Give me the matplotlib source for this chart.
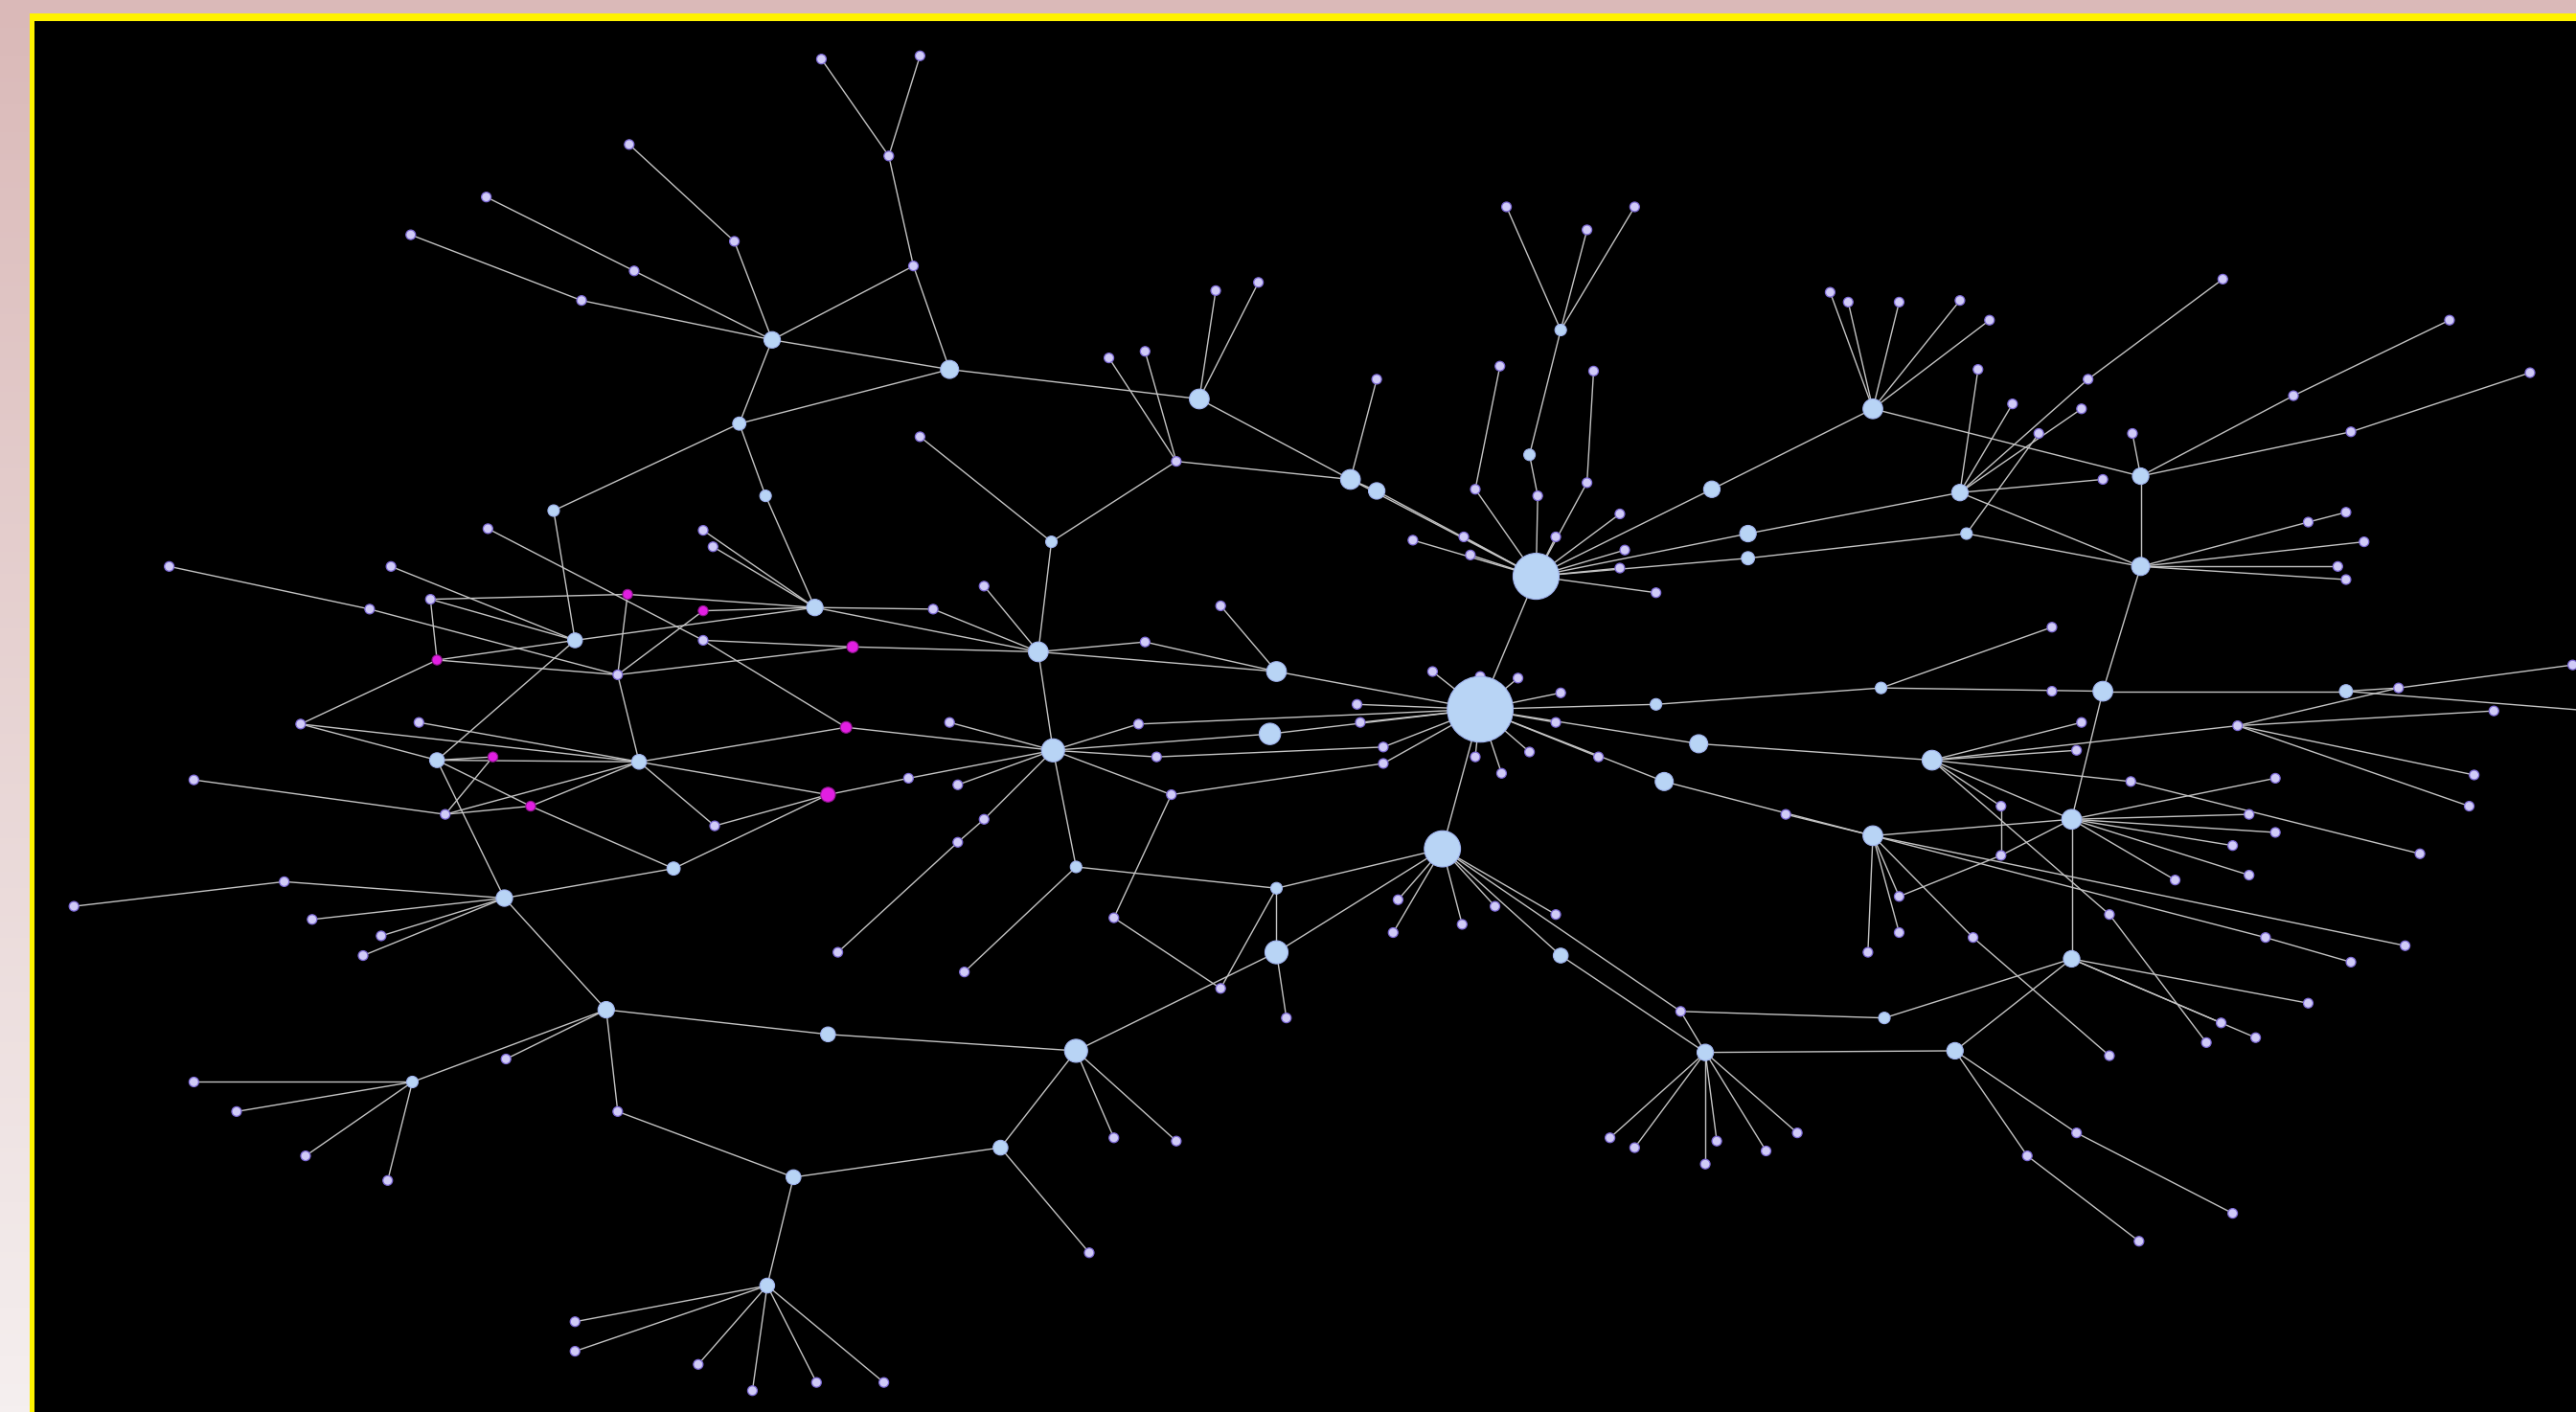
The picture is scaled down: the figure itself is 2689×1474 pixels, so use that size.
import numpy as np
import matplotlib
matplotlib.use("Agg")
import matplotlib.pyplot as plt
from matplotlib.collections import LineCollection
from matplotlib.patches import Rectangle

# ------------------------------------------------------------------
# Graph data: node name, layout x, layout y, node weight (0 = leaf)
# layout is in a 1568 x 860 screen frame
# ------------------------------------------------------------------
top_left = [
    ("n1", 500, 36, 0), ("n2", 560, 34, 0), ("n3", 541, 95, 0), ("n4", 556, 162, 0),
    ("n5", 578, 225, 5.5), ("n6", 383, 88, 0), ("n7", 447, 147, 0), ("n8", 470, 207, 5),
    ("n9", 296, 120, 0), ("n10", 250, 143, 0), ("n11", 386, 165, 0), ("n12", 354, 183, 0),
    ("n13", 450, 258, 4), ("n14", 466, 302, 3.5), ("n15", 337, 311, 3.5), ("n16", 297, 322, 0),
    ("n17", 428, 323, 0), ("n18", 434, 333, 0), ("n19", 496, 370, 5),
]
left_mid = [
    ("n20", 103, 345, 0), ("n21", 238, 345, 0), ("n22", 262, 365, 0), ("n23", 225, 371, 0),
    ("m1", 382, 362, 3), ("m2", 428, 372, 3), ("n24", 350, 390, 4.5), ("n25", 428, 390, 0),
    ("m3", 519, 394, 3.5), ("m4", 266, 402, 3), ("n26", 376, 411, 0), ("n27", 183, 441, 0),
    ("n28", 255, 440, 0), ("m5", 515, 443, 3.5), ("n29", 266, 463, 4.5), ("m6", 300, 461, 3),
    ("n30", 389, 464, 4.5), ("n35", 118, 475, 0), ("n31", 271, 496, 0), ("m7", 323, 491, 3),
    ("n32", 435, 503, 0), ("m8", 504, 484, 4.5), ("n33", 553, 474, 0), ("n36", 410, 529, 4),
]
bottom_left = [
    ("n37", 173, 537, 0), ("n38", 45, 552, 0), ("n39", 307, 547, 5), ("n40", 190, 560, 0),
    ("n41", 232, 570, 0), ("n42", 221, 582, 0), ("n43", 510, 580, 0), ("n44", 369, 615, 5),
    ("n45", 504, 630, 4.5), ("n46", 308, 645, 0), ("n47", 251, 659, 3.5), ("n48", 118, 659, 0),
    ("n49", 144, 677, 0), ("n50", 376, 677, 0), ("n51", 186, 704, 0), ("n52", 236, 719, 0),
    ("n53", 483, 717, 4.5), ("n54", 467, 783, 4.5), ("n55", 350, 805, 0), ("n56", 350, 823, 0),
    ("n57", 425, 831, 0), ("n58", 458, 847, 0), ("n59", 497, 842, 0), ("n60", 538, 842, 0),
]
top_mid = [
    ("n61", 730, 243, 6), ("n62", 740, 177, 0), ("n63", 766, 172, 0), ("n64", 675, 218, 0),
    ("n65", 697, 214, 0), ("n66", 716, 281, 0), ("n67", 560, 266, 0), ("n68", 640, 330, 3.5),
    ("n69", 838, 231, 0), ("n70", 822, 292, 6), ("n71", 838, 299, 5), ("n72", 917, 126, 0),
    ("n73", 966, 140, 0), ("n74", 995, 126, 0), ("n75", 950, 201, 3.5), ("n76", 913, 223, 0),
    ("n77", 970, 226, 0), ("n78", 931, 277, 3.5), ("n79", 898, 298, 0), ("n80", 936, 302, 0),
    ("n81", 966, 294, 0), ("n82", 860, 329, 0), ("n83", 891, 327, 0), ("n84", 895, 338, 0),
    ("n85", 947, 327, 0), ("n86", 986, 313, 0), ("n87", 989, 335, 0), ("n88", 986, 346, 0),
    ("n89", 1008, 361, 0), ("B", 935, 351, 14), ("n90", 1042, 298, 5), ("n91", 1064, 325, 5),
    ("n92", 1064, 340, 4),
]
center = [
    ("n93", 599, 357, 0), ("n94", 568, 371, 0), ("n95", 632, 397, 6), ("n96", 697, 391, 0),
    ("n97", 743, 369, 0), ("n98", 777, 409, 6), ("n99", 872, 409, 0), ("n100", 901, 412, 0),
    ("n101", 924, 413, 0), ("n102", 950, 422, 0), ("n103", 1008, 429, 3.5), ("n104", 826, 429, 0),
    ("n105", 578, 440, 0), ("n106", 693, 441, 0), ("n107", 828, 440, 0), ("A", 901, 432, 20),
    ("n109", 641, 457, 7), ("n110", 773, 447, 6.5), ("n111", 704, 461, 0), ("n112", 842, 455, 0),
    ("n113", 842, 465, 0), ("n114", 583, 478, 0), ("n115", 713, 484, 0), ("n116", 599, 499, 0),
    ("n117", 583, 513, 0), ("n118", 898, 461, 0), ("n119", 914, 471, 0), ("n120", 931, 458, 0),
    ("n121", 947, 440, 0), ("n122", 973, 461, 0), ("n123", 1013, 476, 5.5), ("n124", 1034, 453, 5.5),
]
bottom_mid = [
    ("C", 878, 517, 11), ("n125", 655, 528, 3.5), ("n126", 777, 541, 3.5), ("n127", 678, 559, 0),
    ("n128", 777, 580, 7), ("n129", 743, 602, 0), ("n130", 783, 620, 0), ("n131", 587, 592, 0),
    ("n132", 851, 548, 0), ("n133", 848, 568, 0), ("n134", 890, 563, 0), ("n135", 910, 552, 0),
    ("n136", 947, 557, 0), ("n137", 950, 582, 4.5), ("n138", 1023, 616, 0), ("n139", 1038, 641, 5),
    ("n140", 655, 640, 7), ("n141", 609, 699, 4.5), ("n142", 678, 693, 0), ("n143", 716, 695, 0),
    ("n144", 663, 763, 0), ("n145", 980, 693, 0), ("n146", 995, 699, 0), ("n147", 1038, 709, 0),
    ("n148", 1045, 695, 0),
]
top_right = [
    ("n150", 1114, 178, 0), ("n151", 1125, 184, 0), ("n152", 1156, 184, 0), ("n153", 1193, 183, 0),
    ("n154", 1211, 195, 0), ("n155", 1353, 170, 0), ("n156", 1140, 249, 6), ("n157", 1204, 225, 0),
    ("n158", 1225, 246, 0), ("n159", 1271, 231, 0), ("n160", 1267, 249, 0), ("n161", 1241, 264, 0),
    ("n162", 1298, 264, 0), ("n163", 1491, 195, 0), ("n164", 1540, 227, 0), ("n165", 1396, 241, 0),
    ("n166", 1431, 263, 0), ("n167", 1193, 300, 5), ("n168", 1280, 292, 0), ("n169", 1303, 290, 5),
    ("n170", 1197, 325, 3.5), ("n171", 1405, 318, 0), ("n172", 1428, 312, 0), ("n173", 1439, 330, 0),
    ("n174", 1423, 345, 0), ("n175", 1428, 353, 0), ("n176", 1303, 345, 5.5), ("n177", 1249, 382, 0),
    ("n178", 1145, 419, 3.5), ("n179", 1249, 421, 0), ("n180", 1280, 421, 6), ("n181", 1428, 421, 4),
    ("n182", 1460, 419, 0), ("n183", 1566, 405, 0), ("n184", 1518, 433, 0), ("n185", 1267, 440, 0),
    ("n186", 1362, 442, 0), ("x1", 1590, 434, 0),
]
bottom_right = [
    ("n190", 1176, 463, 6), ("n191", 1264, 457, 0), ("n192", 1297, 476, 0), ("n193", 1385, 474, 0),
    ("n194", 1506, 472, 0), ("n195", 1503, 491, 0), ("n196", 1087, 496, 0), ("n197", 1218, 491, 0),
    ("n198", 1261, 499, 6), ("n199", 1140, 509, 6), ("n200", 1369, 496, 0), ("n201", 1385, 507, 0),
    ("n202", 1359, 515, 0), ("n203", 1218, 521, 0), ("n204", 1324, 536, 0), ("n205", 1369, 533, 0),
    ("n206", 1473, 520, 0), ("n207", 1156, 546, 0), ("n208", 1156, 568, 0), ("n209", 1137, 580, 0),
    ("n210", 1201, 571, 0), ("n211", 1284, 557, 0), ("n212", 1261, 584, 5), ("n213", 1379, 571, 0),
    ("n214", 1464, 576, 0), ("n215", 1431, 586, 0), ("n216", 1147, 620, 3.5), ("n217", 1190, 640, 5),
    ("n218", 1405, 611, 0), ("n219", 1352, 623, 0), ("n220", 1373, 632, 0), ("n221", 1343, 635, 0),
    ("n222", 1284, 643, 0), ("n223", 1094, 690, 0), ("n224", 1075, 701, 0), ("n225", 1264, 690, 0),
    ("n226", 1234, 704, 0), ("n227", 1359, 739, 0), ("n228", 1302, 756, 0),
]

edges_left = [
    ("n1", "n3"), ("n2", "n3"), ("n3", "n4"), ("n4", "n5"), ("n4", "n8"), ("n8", "n5"),
    ("n13", "n5"), ("n6", "n7"), ("n7", "n8"), ("n9", "n11"), ("n11", "n8"), ("n10", "n12"),
    ("n12", "n8"), ("n8", "n13"), ("n13", "n15"), ("n13", "n14"), ("n14", "n19"), ("n17", "n19"),
    ("n18", "n19"), ("n15", "n24"), ("n16", "n25"), ("n25", "m5"), ("n21", "n24"), ("n20", "n23"),
    ("n23", "n26"), ("n22", "m1"), ("m1", "n19"), ("n22", "n24"), ("n22", "m4"), ("m4", "n24"),
    ("m4", "n26"), ("m4", "n27"), ("m1", "n26"), ("m2", "n19"), ("m2", "n26"), ("n24", "n19"),
    ("n25", "m3"), ("n26", "m3"), ("n26", "n30"), ("n24", "n29"), ("n19", "n94"), ("n19", "n95"),
    ("m3", "n95"), ("n27", "n29"), ("n27", "n30"), ("n28", "n30"), ("n29", "m6"), ("n29", "n30"),
    ("n29", "m7"), ("n29", "n39"), ("m6", "n31"), ("n35", "n31"), ("n31", "n30"), ("n31", "m7"),
    ("m7", "n30"), ("m7", "n36"), ("n30", "m8"), ("n30", "n32"), ("n30", "m5"), ("n32", "m8"),
    ("n36", "m8"), ("n36", "n39"), ("m8", "n33"), ("m5", "n109"),
    ("n37", "n39"), ("n38", "n37"), ("n39", "n40"), ("n39", "n41"), ("n39", "n42"), ("n39", "n44"),
    ("n44", "n45"), ("n45", "n140"), ("n44", "n47"), ("n44", "n46"), ("n47", "n48"), ("n47", "n49"),
    ("n47", "n51"), ("n47", "n52"), ("n44", "n50"), ("n50", "n53"), ("n53", "n141"), ("n53", "n54"),
    ("n54", "n55"), ("n54", "n56"), ("n54", "n57"), ("n54", "n58"), ("n54", "n59"), ("n54", "n60"),
    ("n43", "n117"),
]
edges_mid = [
    ("n5", "n61"), ("n61", "n62"), ("n61", "n63"), ("n61", "n70"), ("n64", "n66"), ("n65", "n66"),
    ("n66", "n70"), ("n66", "n68"), ("n67", "n68"), ("n68", "n95"), ("n69", "n70"), ("n70", "B"),
    ("n71", "B"), ("n70", "n71"), ("n72", "n75"), ("n73", "n75"), ("n74", "n75"), ("n75", "n78"),
    ("n78", "n80"), ("n80", "B"), ("n76", "n79"), ("n79", "B"), ("n77", "n81"), ("n81", "B"),
    ("n82", "B"), ("n83", "B"), ("n84", "B"), ("n85", "B"), ("n86", "B"), ("n87", "B"),
    ("n88", "B"), ("n89", "B"), ("B", "n90"), ("B", "n91"), ("B", "n92"), ("B", "A"),
    ("n93", "n95"), ("n94", "n95"), ("n95", "n96"), ("n96", "n98"), ("n95", "n98"), ("n97", "n98"),
    ("n98", "A"), ("n95", "n109"), ("n99", "A"), ("n100", "A"), ("n101", "A"), ("n102", "A"),
    ("A", "n103"), ("n103", "n178"), ("n104", "A"), ("n107", "A"), ("n105", "n109"),
    ("n109", "n106"), ("n106", "A"), ("n109", "n110"), ("n110", "A"), ("n109", "n111"),
    ("n111", "n112"), ("n112", "A"), ("n109", "n115"), ("n115", "n113"), ("n113", "A"),
    ("n33", "n109"), ("n114", "n109"), ("n109", "n116"), ("n116", "n117"), ("n109", "n125"),
    ("n115", "n127"), ("n118", "A"), ("n119", "A"), ("n120", "A"), ("n121", "A"), ("A", "n122"),
    ("A", "n123"), ("n123", "n199"), ("A", "n124"), ("n124", "n190"), ("A", "C"),
    ("n125", "n126"), ("n126", "C"), ("n126", "n128"), ("n126", "n129"), ("n127", "n129"),
    ("n128", "n130"), ("C", "n128"), ("n128", "n140"), ("n131", "n125"), ("n132", "C"),
    ("n133", "C"), ("n134", "C"), ("n135", "C"), ("n136", "C"), ("C", "n137"), ("C", "n138"),
    ("n137", "n139"), ("n138", "n139"), ("n138", "n216"), ("n139", "n217"), ("n139", "n145"),
    ("n139", "n146"), ("n139", "n147"), ("n139", "n148"), ("n139", "n223"), ("n139", "n224"),
    ("n140", "n141"), ("n140", "n142"), ("n140", "n143"), ("n141", "n144"),
]
edges_right = [
    ("n150", "n156"), ("n151", "n156"), ("n152", "n156"), ("n153", "n156"), ("n154", "n156"),
    ("n156", "n90"), ("n156", "n169"), ("n157", "n167"), ("n158", "n167"), ("n155", "n159"),
    ("n159", "n167"), ("n160", "n167"), ("n161", "n170"), ("n162", "n169"), ("n168", "n167"),
    ("n167", "n91"), ("n170", "n92"), ("n167", "n176"), ("n170", "n176"), ("n169", "n176"),
    ("n169", "n165"), ("n165", "n163"), ("n169", "n166"), ("n166", "n164"), ("n176", "n171"),
    ("n171", "n172"), ("n176", "n173"), ("n176", "n174"), ("n176", "n175"), ("n176", "n180"),
    ("n177", "n178"), ("n178", "n180"), ("n180", "n181"), ("n181", "n182"), ("n182", "n183"),
    ("n182", "n186"), ("n181", "x1"), ("n184", "n186"), ("n180", "n198"),
    ("n190", "n185"), ("n190", "n191"), ("n190", "n192"), ("n192", "n206"), ("n190", "n197"),
    ("n197", "n203"), ("n190", "n198"), ("n186", "n190"), ("n186", "n194"), ("n186", "n195"),
    ("n199", "n196"), ("n199", "n198"), ("n198", "n203"), ("n203", "n207"), ("n199", "n207"),
    ("n199", "n208"), ("n199", "n209"), ("n199", "n210"), ("n210", "n222"), ("n198", "n193"),
    ("n198", "n200"), ("n198", "n201"), ("n198", "n202"), ("n198", "n204"), ("n198", "n205"),
    ("n198", "n212"), ("n212", "n216"), ("n212", "n217"), ("n212", "n218"), ("n212", "n219"),
    ("n212", "n220"), ("n190", "n211"), ("n211", "n221"), ("n199", "n213"), ("n213", "n215"),
    ("n199", "n214"), ("n217", "n225"), ("n225", "n227"), ("n217", "n226"), ("n226", "n228"),
]

# ------------------------------------------------------------------
# Assemble
# ------------------------------------------------------------------
nodes = top_left + left_mid + bottom_left + top_mid + center + bottom_mid + top_right + bottom_right
edges = edges_left + edges_mid + edges_right
pos = {name: (x, y) for name, x, y, w in nodes}
weight = {name: w for name, x, y, w in nodes}

W, H = 1568, 860
fig = plt.figure(figsize=(26.89, 14.74), dpi=100)
ax = fig.add_axes([0, 0, 1, 1])
ax.set_xlim(0, W)
ax.set_ylim(H, 0)
ax.axis("off")

# slide background (soft pink gradient) + yellow frame + black canvas
grad = np.linspace(0, 1, 256)[:, None]
top_col = np.array([218, 185, 184]) / 255.0
bot_col = np.array([245, 239, 239]) / 255.0
img = top_col[None, None, :] * (1 - grad[..., None]) + bot_col[None, None, :] * grad[..., None]
img = np.repeat(img, 4, axis=1)
ax.imshow(img, extent=[0, W, H, 0], aspect="auto", zorder=0)
ax.add_patch(Rectangle((18.0, 8.3), W, H, facecolor="#fff200", edgecolor="none", zorder=1))
ax.add_patch(Rectangle((21.0, 12.8), W, H, facecolor="black", edgecolor="none", zorder=2))

# edges
segs = [[pos[a], pos[b]] for a, b in edges]
lc = LineCollection(segs, colors="#c4c4c4", linewidths=1.0, zorder=3)
ax.add_collection(lc)

# nodes
px_per_unit = fig.get_figwidth() * fig.dpi / W
def to_size(r):
    d_pt = 2 * r * px_per_unit * 72.0 / fig.dpi
    return d_pt ** 2

leaf_r = 2.9
names = [n for n, x, y, w in nodes]
xs = np.array([pos[n][0] for n in names])
ys = np.array([pos[n][1] for n in names])
rs = np.array([weight[n] if weight[n] > 0 else leaf_r for n in names])
is_mag = np.array([n.startswith("m") for n in names])
is_big = (rs >= 3.5) & ~is_mag

small = ~is_big & ~is_mag
ax.scatter(xs[small], ys[small], s=to_size(rs[small]), c="#d0cbf7",
           edgecolors="#7d6ad6", linewidths=0.9, zorder=4)
ax.scatter(xs[is_big], ys[is_big], s=to_size(rs[is_big]), c="#b8d4f5",
           edgecolors="#9fb2ee", linewidths=0.8, zorder=5)
ax.scatter(xs[is_mag], ys[is_mag], s=to_size(rs[is_mag]), c="#e21fe2",
           edgecolors="#8a168a", linewidths=0.8, zorder=5)

fig.savefig("out.png", dpi=100)
